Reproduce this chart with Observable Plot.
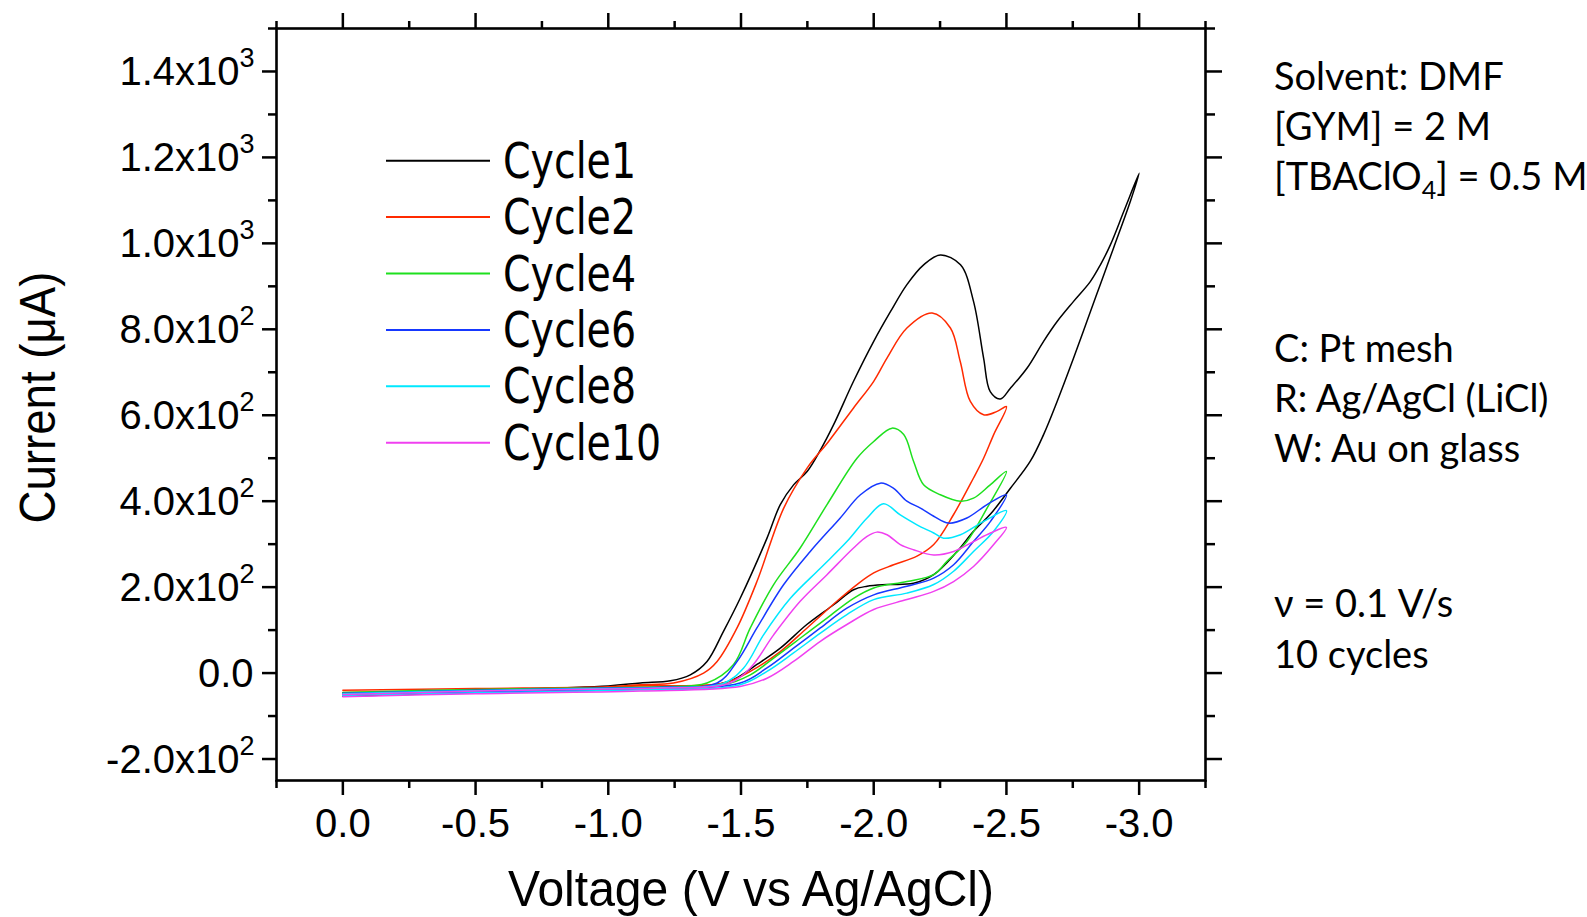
<!DOCTYPE html>
<html>
<head>
<meta charset="utf-8">
<script src="https://cdn.jsdelivr.net/npm/d3@7"></script>
<script src="https://cdn.jsdelivr.net/npm/@observablehq/plot@0.6"></script>
<style>
  html, body { margin: 0; padding: 0; background: #fff; }
  svg { display: block; }
</style>
</head>
<body>
<div id="chart"></div>
<script>
// Cyclic voltammograms: [potential (V vs Ag/AgCl), current (µA)],
// cathodic sweep first, then the return sweep back to 0 V.
const cycle1 = [
  [0,-48],[-0.5,-40],[-1.0,-30],[-1.121,-23],[-1.234,-18],[-1.309,-4],[-1.372,27],[-1.434,97],
  [-1.497,174],[-1.598,314],[-1.648,392],[-1.698,438],[-1.749,469],[-1.80,520],[-1.849,578],
  [-1.924,679],[-2.0,772],[-2.063,841],[-2.125,904],[-2.188,950],[-2.251,973],[-2.327,950],
  [-2.376,865],[-2.414,733],[-2.439,655],[-2.477,638],[-2.515,663],[-2.578,710],[-2.64,772],
  [-2.691,818],[-2.753,865],[-2.816,911],[-2.854,950],[-2.892,997],[-2.942,1074],[-3.0,1163],
  [-2.967,1098],[-2.904,990],[-2.854,905],[-2.804,820],[-2.753,733],[-2.691,632],[-2.64,555],
  [-2.59,493],[-2.515,430],[-2.44,370],[-2.376,330],[-2.314,283],[-2.226,229],[-2.15,209],
  [-2.05,206],[-1.975,202],[-1.924,194],[-1.849,159],[-1.748,113],[-1.648,58],[-1.56,20],
  [-1.472,-15],[-1.372,-31],[-1.121,-35],[-0.5,-45],[0,-54]
];
const cycle2 = [
  [0,-40],[-0.5,-36],[-1.0,-32],[-1.121,-27],[-1.246,-23],[-1.359,0],[-1.41,27],[-1.485,105],
  [-1.56,213],[-1.661,384],[-1.749,477],[-1.83,539],[-1.924,617],[-2.0,679],[-2.05,733],
  [-2.125,803],[-2.22,838],[-2.289,803],[-2.326,725],[-2.364,632],[-2.414,601],[-2.465,609],
  [-2.5,620],
  [-2.452,555],[-2.414,500],[-2.376,454],[-2.301,369],[-2.226,299],[-2.163,272],[-2.075,252],
  [-2.0,233],[-1.937,206],[-1.874,174],[-1.749,105],[-1.648,50],[-1.535,4],[-1.434,-23],
  [-1.121,-30],[-0.5,-40],[0,-45]
];
const cycle4 = [
  [0,-45],[-0.5,-38],[-1.0,-34],[-1.2,-32],[-1.372,-23],[-1.472,20],[-1.535,105],[-1.623,206],
  [-1.723,291],[-1.824,392],[-1.937,500],[-2.0,539],[-2.069,570],[-2.113,555],[-2.15,493],
  [-2.188,438],[-2.251,415],[-2.327,400],[-2.376,407],[-2.439,438],[-2.5,469],
  [-2.427,384],[-2.351,306],[-2.276,260],[-2.226,229],[-2.125,213],[-2.0,198],[-1.924,174],
  [-1.824,128],[-1.723,81],[-1.623,35],[-1.535,-4],[-1.434,-27],[-1.121,-35],[-0.5,-42],[0,-48]
];
const cycle6 = [
  [0,-47],[-0.5,-40],[-1.0,-35],[-1.2,-33],[-1.41,-23],[-1.485,27],[-1.56,105],[-1.661,206],
  [-1.761,283],[-1.874,361],[-1.95,415],[-2.025,442],[-2.075,430],[-2.125,400],[-2.176,384],
  [-2.226,365],[-2.282,349],[-2.351,361],[-2.427,392],[-2.5,415],
  [-2.44,353],[-2.376,306],[-2.301,252],[-2.226,221],[-2.125,202],[-2.0,182],[-1.899,151],
  [-1.799,105],[-1.698,58],[-1.598,12],[-1.497,-23],[-1.121,-37],[-0.5,-44],[0,-50]
];
const cycle8 = [
  [0,-48],[-0.5,-41],[-1.0,-36],[-1.2,-34],[-1.43,-25],[-1.51,12],[-1.585,89],[-1.686,174],
  [-1.799,244],[-1.899,306],[-1.975,361],[-2.037,394],[-2.1,368],[-2.163,345],[-2.226,326],
  [-2.263,314],[-2.327,322],[-2.414,353],[-2.5,378],
  [-2.452,330],[-2.376,283],[-2.301,237],[-2.226,206],[-2.125,186],[-2.0,171],[-1.899,136],
  [-1.799,93],[-1.698,47],[-1.598,4],[-1.497,-27],[-1.121,-39],[-0.5,-46],[0,-52]
];
const cycle10 = [
  [0,-50],[-0.5,-42],[-1.0,-37],[-1.2,-35],[-1.45,-25],[-1.535,12],[-1.623,89],[-1.723,167],
  [-1.824,229],[-1.924,291],[-1.975,318],[-2.012,328],[-2.05,322],[-2.1,299],[-2.15,287],
  [-2.226,275],[-2.301,283],[-2.376,306],[-2.44,326],[-2.5,339],
  [-2.452,299],[-2.376,248],[-2.301,213],[-2.226,190],[-2.125,171],[-2.0,148],[-1.899,113],
  [-1.799,74],[-1.698,27],[-1.598,-12],[-1.497,-31],[-1.121,-42],[-0.5,-48],[0,-55]
];

const cycleNames  = ["Cycle1", "Cycle2", "Cycle4", "Cycle6", "Cycle8", "Cycle10"];
const cycleColors = ["#000000", "#ff2a00", "#1ee01e", "#1638ff", "#00e8ff", "#f040f0"];
const cycleData   = [cycle1, cycle2, cycle4, cycle6, cycle8, cycle10];

// Axis ticks and labels
const xMajor = [0, -0.5, -1.0, -1.5, -2.0, -2.5, -3.0];
const xMinor = [0.25, -0.25, -0.75, -1.25, -1.75, -2.25, -2.75, -3.25];
const xTickText = ["0.0", "-0.5", "-1.0", "-1.5", "-2.0", "-2.5", "-3.0"];
const yMajor = [-200, 0, 200, 400, 600, 800, 1000, 1200, 1400];
const yMinor = [-100, 100, 300, 500, 700, 900, 1100, 1300, 1500];
const yTickText  = ["-2.0x10", "0.0", "2.0x10", "4.0x10", "6.0x10", "8.0x10", "1.0x10", "1.2x10", "1.4x10"];
const yTickPower = ["2", "", "2", "2", "2", "2", "3", "3", "3"];

const xTitle = "Voltage (V vs Ag/AgCl)";
const yTitle = "Current (\u03bcA)";

// Experimental conditions listed to the right of the plot
const notes = [
  [["Solvent: DMF"]],
  [["[GYM] = 2 M"]],
  [["[TBAClO"], ["4", "sub"], ["] = 0.5 M"]],
  [["C: Pt mesh"]],
  [["R: Ag/AgCl (LiCl)"]],
  [["W: Au on glass"]],
  [["\u03bd = 0.1 V/s"]],
  [["10 cycles"]]
];
const noteBaselines = [90, 140, 190, 362, 412, 462, 617, 668];

const rows = cycleData.flatMap((pts, k) =>
  pts.map(([v, i], j) => ({cycle: cycleNames[k], v, i, j})));

const yLabelRows = yMajor.map((v, k) => ({v, text: yTickText[k], power: yTickPower[k]}));
const withPower = yLabelRows.filter(d => d.power !== "");
const withoutPower = yLabelRows.filter(d => d.power === "");

const W = 1587, H = 917;
const frameLeft = 276, frameRight = 1205, frameTop = 28, frameBottom = 780;
const axisFont = "'Liberation Sans', Arial, sans-serif";
const tickFont = 40;

const chart = Plot.plot({
  width: W,
  height: H,
  marginLeft: frameLeft,
  marginRight: W - frameRight,
  marginTop: frameTop,
  marginBottom: H - frameBottom,
  style: {fontFamily: axisFont, background: "#fff", color: "#000"},
  x: {domain: [0.25, -3.25], label: null},
  y: {domain: [-250, 1500], label: null},
  color: {domain: cycleNames, range: cycleColors},
  marks: [
    Plot.line(rows, {x: "v", y: "i", z: "cycle", stroke: "cycle", strokeWidth: 1.5, curve: "catmull-rom"}),
    Plot.frame({stroke: "#000", strokeWidth: 2.6}),

    // bottom axis
    Plot.axisX({anchor: "bottom", ticks: xMajor, tickSize: 15, tickPadding: 13, strokeWidth: 2.5,
      fontSize: tickFont, tickFormat: d => xTickText[xMajor.indexOf(d)], label: null}),
    Plot.axisX({anchor: "bottom", ticks: xMinor, tickSize: 8, strokeWidth: 2.5, fill: "none", label: null}),
    // top axis
    Plot.axisX({anchor: "top", ticks: xMajor, tickSize: 16, strokeWidth: 2.5, fill: "none", label: null}),
    Plot.axisX({anchor: "top", ticks: xMinor, tickSize: 8, strokeWidth: 2.5, fill: "none", label: null}),
    // left axis
    Plot.axisY({anchor: "left", ticks: yMajor, tickSize: 14, strokeWidth: 2.5, fill: "none", label: null}),
    Plot.axisY({anchor: "left", ticks: yMinor, tickSize: 8, strokeWidth: 2.5, fill: "none", label: null}),
    // right axis
    Plot.axisY({anchor: "right", ticks: yMajor, tickSize: 16, strokeWidth: 2.5, fill: "none", label: null}),
    Plot.axisY({anchor: "right", ticks: yMinor, tickSize: 9, strokeWidth: 2.5, fill: "none", label: null}),

    // y tick labels in scientific notation with a raised exponent
    Plot.text(withPower, {y: "v", text: "text", frameAnchor: "left", textAnchor: "end",
      dx: -37, dy: 1, fontSize: tickFont, fill: "#000"}),
    Plot.text(withPower, {y: "v", text: "power", frameAnchor: "left", textAnchor: "end",
      dx: -22, dy: -13, fontSize: 27, fill: "#000"}),
    Plot.text(withoutPower, {y: "v", text: "text", frameAnchor: "left", textAnchor: "end",
      dx: -23, dy: 1, fontSize: tickFont, fill: "#000"})
  ]
});

document.getElementById("chart").appendChild(chart);
const svg = d3.select(chart);

// Axis titles
svg.append("text")
  .attr("x", 751).attr("y", 906)
  .attr("text-anchor", "middle")
  .attr("font-family", axisFont).attr("font-size", 50)
  .attr("textLength", 486).attr("lengthAdjust", "spacingAndGlyphs")
  .attr("fill", "#000")
  .text(xTitle);

svg.append("text")
  .attr("transform", "translate(55,397.5) rotate(-90)")
  .attr("text-anchor", "middle")
  .attr("font-family", axisFont).attr("font-size", 50)
  .attr("textLength", 252).attr("lengthAdjust", "spacingAndGlyphs")
  .attr("fill", "#000")
  .text(yTitle);

// Legend
const legendFont = "'DejaVu Sans Condensed', 'DejaVu Sans', sans-serif";
const legend = svg.append("g").attr("class", "cycle-legend").attr("text-anchor", "start");
const legendRowY = k => 160.7 + k * 56.4;
legend.selectAll("line").data(cycleNames).join("line")
  .attr("x1", 386).attr("x2", 490)
  .attr("y1", (d, k) => legendRowY(k)).attr("y2", (d, k) => legendRowY(k))
  .attr("stroke", (d, k) => cycleColors[k]).attr("stroke-width", 2);
const legendText = legend.selectAll("text").data(cycleNames).join("text")
  .attr("x", 503).attr("y", (d, k) => legendRowY(k) + 17)
  .attr("text-anchor", "start")
  .attr("font-family", legendFont).attr("font-size", 50)
  .attr("font-stretch", "condensed")
  .attr("fill", "#000")
  .text(d => d);
const refWidth = legendText.nodes()[0].getComputedTextLength();
const squeeze = refWidth > 0 ? 133 / refWidth : 1;
legendText.each(function() {
  const w = this.getComputedTextLength();
  if (w > 0) d3.select(this).attr("textLength", w * squeeze).attr("lengthAdjust", "spacingAndGlyphs");
});

// Conditions
const noteFont = "Lato, 'Open Sans', sans-serif";
notes.forEach((parts, k) => {
  const t = svg.append("text")
    .attr("x", 1274).attr("y", noteBaselines[k])
    .attr("text-anchor", "start")
    .attr("font-family", noteFont).attr("font-size", 38)
    .attr("fill", "#000");
  let shifted = 0;
  parts.forEach(([s, kind]) => {
    if (kind === "sub") {
      t.append("tspan").attr("font-size", 25).attr("dy", 9).text(s);
      shifted = 9;
    } else {
      const sp = t.append("tspan").text(s);
      if (shifted) { sp.attr("dy", -shifted); shifted = 0; }
    }
  });
});
</script>
</body>
</html>
